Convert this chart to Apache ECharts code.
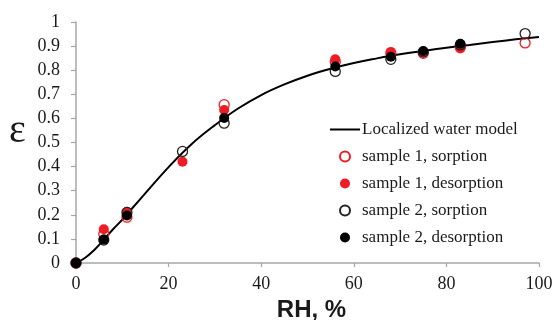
<!DOCTYPE html>
<html>
<head>
<meta charset="utf-8">
<script src="https://cdn.jsdelivr.net/npm/echarts@6/dist/echarts.min.js"></script>
<style>
  html, body { margin: 0; padding: 0; background: #fff; }
  #chart { width: 555px; height: 320px; }
</style>
</head>
<body>
<div id="chart"></div>
<script>
// Localized water model curve (RH %, epsilon)
const modelRH  = [0, 2, 4, 6, 8, 10, 12, 15, 20, 25, 30, 35, 40, 45, 50, 55, 60, 65, 70, 75, 80, 85, 90, 95, 100];
const modelEps = [0, 0.022, 0.055, 0.097, 0.14, 0.18, 0.224, 0.29, 0.398, 0.494, 0.572, 0.641, 0.697, 0.741, 0.777, 0.806, 0.83, 0.849, 0.866, 0.88, 0.893, 0.905, 0.917, 0.928, 0.938];

// Measured points
const s1SorpRH  = [0, 6, 11, 32, 56, 68, 75, 83, 97];
const s1SorpEps = [0, 0.12, 0.19, 0.657, 0.835, 0.87, 0.87, 0.895, 0.913];
const s1DesRH   = [0, 6, 11, 23, 32, 56, 68, 75, 83];
const s1DesEps  = [0, 0.14, 0.213, 0.42, 0.635, 0.845, 0.876, 0.875, 0.89];
const s2SorpRH  = [0, 6, 11, 23, 32, 56, 68, 75, 83, 97];
const s2SorpEps = [0, 0.095, 0.21, 0.463, 0.58, 0.795, 0.845, 0.875, 0.905, 0.952];
const s2DesRH   = [0, 6, 11, 32, 56, 68, 75, 83];
const s2DesEps  = [0, 0.097, 0.197, 0.602, 0.815, 0.856, 0.88, 0.91];

const seriesNames = ['Localized water model', 'sample 1, sorption', 'sample 1, desorption', 'sample 2, sorption', 'sample 2, desorption'];
const xTicks = [0, 20, 40, 60, 80, 100];

const RED = '#ee1c25';
const BLACK = '#000000';
const serif = "'Liberation Serif', 'DejaVu Serif', serif";

const pairs = (xs, ys) => xs.map((x, i) => [x, ys[i]]);

const openStyle = c => ({ color: 'rgba(255,255,255,0)', borderColor: c, borderWidth: 1.3, opacity: 1 });
const fillStyle = c => ({ color: c, borderWidth: 0, opacity: 1 });

const chart = echarts.init(document.getElementById('chart'), null, { renderer: 'canvas' });

chart.setOption({
  backgroundColor: '#ffffff',
  animation: false,
  grid: { left: 76, right: 16, top: 22, bottom: 57, containLabel: false, outerBoundsMode: 'none' },
  xAxis: {
    type: 'value',
    min: xTicks[0], max: xTicks[xTicks.length - 1], interval: 20,
    name: 'RH, %',
    nameLocation: 'middle',
    nameGap: 34,
    nameTextStyle: { fontFamily: "'Liberation Sans', Arial, sans-serif", fontWeight: 'bold', fontSize: 24, color: '#1a1a1a', padding: [0, 0, 0, 8] },
    axisLine: { show: true, lineStyle: { color: '#a6a6a6', width: 1.5 } },
    axisTick: { show: true, inside: false, length: 4, lineStyle: { color: '#a6a6a6', width: 1.2 } },
    axisLabel: { fontFamily: serif, fontSize: 18, color: '#1a1a1a', margin: 12 },
    splitLine: { show: false }
  },
  yAxis: {
    type: 'value',
    min: 0, max: 1, interval: 0.1,
    axisLine: { show: true, lineStyle: { color: '#a6a6a6', width: 1.5 } },
    axisTick: { show: true, inside: false, length: 5, lineStyle: { color: '#a6a6a6', width: 1.2 } },
    axisLabel: { fontFamily: serif, fontSize: 18, color: '#1a1a1a', margin: 16 },
    splitLine: { show: false }
  },
  graphic: [{
    type: 'text',
    left: 9, top: 111,
    style: { text: 'ε', font: "40px 'Liberation Serif', serif", fill: '#1a1a1a' }
  }],
  legend: {
    orient: 'vertical',
    left: 330, top: 121, padding: 0,
    itemWidth: 30, itemHeight: 10, itemGap: 10,
    textStyle: { fontFamily: serif, fontSize: 17, color: '#1a1a1a', lineHeight: 17, padding: [0, 0, 0, -3] },
    data: [
      { name: seriesNames[0], icon: 'path://M0,0H30V2H0Z', itemStyle: { color: BLACK } },
      seriesNames[1], seriesNames[2], seriesNames[3], seriesNames[4]
    ]
  },
  series: [
    {
      name: seriesNames[0], type: 'line', data: pairs(modelRH, modelEps),
      smooth: 0.4, symbol: 'none', itemStyle: { color: BLACK },
      lineStyle: { color: BLACK, width: 2 }, z: 1
    },
    {
      name: seriesNames[1], type: 'scatter', data: pairs(s1SorpRH, s1SorpEps),
      symbol: 'circle', symbolSize: 10, itemStyle: openStyle(RED), z: 2
    },
    {
      name: seriesNames[2], type: 'scatter', data: pairs(s1DesRH, s1DesEps),
      symbol: 'circle', symbolSize: 10, itemStyle: fillStyle(RED), z: 3
    },
    {
      name: seriesNames[3], type: 'scatter', data: pairs(s2SorpRH, s2SorpEps),
      symbol: 'circle', symbolSize: 10, itemStyle: openStyle('#222'), z: 4
    },
    {
      name: seriesNames[4], type: 'scatter', data: pairs(s2DesRH, s2DesEps),
      symbol: 'circle', symbolSize: 10, itemStyle: fillStyle(BLACK), z: 5
    }
  ]
});
</script>
</body>
</html>
